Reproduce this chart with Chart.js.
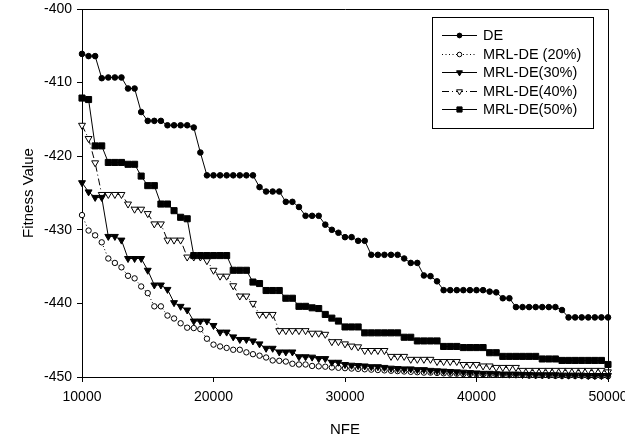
<!DOCTYPE html>
<html>
<head>
<meta charset="utf-8">
<script src="https://cdn.jsdelivr.net/npm/chart.js"></script>
<style>
  body { margin: 0; background: #fff; }
  #mycanvas { display: block; }
</style>
</head>
<body>
<canvas id="mycanvas" width="625" height="442"></canvas>
<script>
var nfe = [10000, 10500, 11000, 11500, 12000, 12500, 13000, 13500, 14000, 14500,
  15000, 15500, 16000, 16500, 17000, 17500, 18000, 18500, 19000, 19500,
  20000, 20500, 21000, 21500, 22000, 22500, 23000, 23500, 24000, 24500,
  25000, 25500, 26000, 26500, 27000, 27500, 28000, 28500, 29000, 29500,
  30000, 30500, 31000, 31500, 32000, 32500, 33000, 33500, 34000, 34500,
  35000, 35500, 36000, 36500, 37000, 37500, 38000, 38500, 39000, 39500,
  40000, 40500, 41000, 41500, 42000, 42500, 43000, 43500, 44000, 44500,
  45000, 45500, 46000, 46500, 47000, 47500, 48000, 48500, 49000, 49500, 50000];

var de = [-406.1, -406.4, -406.4, -409.4, -409.3, -409.3, -409.3, -410.8, -410.8, -414.0,
  -415.2, -415.2, -415.2, -415.8, -415.8, -415.8, -415.8, -416.1, -419.5, -422.6,
  -422.6, -422.6, -422.6, -422.6, -422.6, -422.6, -422.6, -424.2, -424.8, -424.8,
  -424.8, -426.2, -426.2, -426.9, -428.1, -428.1, -428.1, -429.3, -430.0, -430.4,
  -431.0, -431.0, -431.5, -431.5, -433.4, -433.4, -433.4, -433.4, -433.4, -433.9,
  -434.5, -434.5, -436.2, -436.3, -437.0, -438.2, -438.2, -438.2, -438.2, -438.2,
  -438.2, -438.2, -438.4, -438.5, -439.3, -439.3, -440.5, -440.5, -440.5, -440.5,
  -440.5, -440.5, -440.5, -440.9, -441.9, -441.9, -441.9, -441.9, -441.9, -441.9, -441.9];

var mrl20 = [-428.0, -430.1, -430.75, -431.7, -433.9, -434.5, -435.1, -436.25, -436.6, -437.7,
  -438.6, -440.4, -440.4, -441.65, -442.05, -442.7, -443.3, -443.35, -443.5, -444.8,
  -445.6, -445.85, -446.05, -446.3, -446.3, -446.65, -446.9, -447.1, -447.35, -447.75,
  -447.8, -447.9, -448.2, -448.3, -448.3, -448.5, -448.55, -448.6, -448.7, -448.75,
  -448.8, -448.85, -448.9, -448.95, -449.0, -449.05, -449.1, -449.15, -449.2, -449.25,
  -449.3, -449.35, -449.4, -449.4, -449.45, -449.5, -449.55, -449.55, -449.6, -449.6,
  -449.65, -449.65, -449.7, -449.7, -449.7, -449.75, -449.75, -449.75, -449.8, -449.8,
  -449.8, -449.8, -449.85, -449.85, -449.85, -449.85, -449.85, -449.9, -449.9, -449.9, -449.9];

var mrl30 = [-423.6, -424.85, -425.6, -425.6, -430.9, -430.9, -431.4, -433.9, -433.9, -433.9,
  -435.5, -437.5, -437.5, -438.1, -439.9, -440.4, -440.9, -442.4, -442.4, -442.4,
  -443.0, -443.9, -443.9, -444.55, -444.9, -444.9, -445.1, -445.5, -446.1, -446.1,
  -446.6, -446.6, -446.6, -447.25, -447.25, -447.3, -447.5, -447.5, -448.0, -448.0,
  -448.3, -448.4, -448.45, -448.5, -448.6, -448.6, -448.7, -448.8, -448.85, -448.9,
  -448.9, -449.0, -449.0, -449.1, -449.15, -449.2, -449.25, -449.3, -449.35, -449.4,
  -449.45, -449.5, -449.5, -449.55, -449.6, -449.6, -449.6, -449.65, -449.65, -449.7,
  -449.7, -449.7, -449.7, -449.75, -449.75, -449.75, -449.75, -449.8, -449.8, -449.8, -449.8];

var mrl40 = [-415.8, -417.6, -420.9, -425.2, -425.2, -425.2, -425.2, -426.5, -427.2, -427.2,
  -427.8, -429.2, -429.2, -431.4, -431.4, -431.4, -433.7, -433.7, -433.7, -434.2,
  -435.5, -436.3, -436.3, -437.6, -439.0, -439.0, -440.0, -441.5, -441.5, -441.5,
  -443.7, -443.7, -443.7, -443.7, -443.7, -444.05, -444.05, -444.2, -445.2, -445.2,
  -445.5, -445.8, -445.9, -446.4, -446.4, -446.4, -446.4, -447.2, -447.2, -447.2,
  -447.6, -447.6, -447.6, -447.6, -447.9, -447.9, -447.9, -447.9, -448.3, -448.3,
  -448.3, -448.5, -448.5, -448.7, -448.7, -448.7, -448.7, -449.1, -449.1, -449.1,
  -449.1, -449.1, -449.1, -449.1, -449.1, -449.1, -449.1, -449.1, -449.1, -449.1, -449.3];

var mrl50 = [-412.1, -412.3, -418.6, -418.6, -420.85, -420.85, -420.85, -421.1, -421.1, -422.7,
  -424.0, -424.0, -426.5, -426.5, -427.4, -428.3, -428.5, -433.5, -433.5, -433.5,
  -433.5, -433.5, -433.5, -435.5, -435.5, -435.5, -437.1, -437.3, -438.25, -438.25,
  -438.25, -439.3, -439.3, -440.4, -440.4, -440.6, -440.7, -441.5, -442.0, -442.4,
  -443.2, -443.2, -443.2, -444.0, -444.0, -444.0, -444.0, -444.0, -444.0, -444.6,
  -444.6, -445.1, -445.1, -445.1, -445.1, -445.85, -445.85, -445.85, -446.0, -446.0,
  -446.0, -446.0, -446.7, -446.7, -447.2, -447.2, -447.2, -447.2, -447.2, -447.2,
  -447.55, -447.55, -447.55, -447.75, -447.75, -447.75, -447.75, -447.75, -447.75, -447.75, -448.3];

var xTicks = [10000, 20000, 30000, 40000, 50000];
var yTicks = [-400, -410, -420, -430, -440, -450];

var font = "'Liberation Sans', Arial, sans-serif";

function pts(values) {
  var out = [];
  for (var i = 0; i < values.length; i++) {
    out.push({x: nfe[i], y: values[i]});
  }
  return out;
}

function series(label, values, style, radius, rotation, fill, dash, order) {
  return {
    label: label,
    data: pts(values),
    borderColor: '#000',
    borderWidth: 1,
    borderDash: dash,
    pointStyle: style,
    pointRadius: radius,
    pointRotation: rotation,
    pointBackgroundColor: fill,
    pointBorderColor: '#000',
    pointBorderWidth: 1,
    tension: 0,
    fill: false,
    clip: false,
    order: order
  };
}

// top/right frame lines and the boxed legend inside the plot
var frameAndLegend = {
  id: 'frameAndLegend',
  afterDraw: function(chart) {
    var ctx = chart.ctx;
    var a = chart.chartArea;
    ctx.save();
    ctx.strokeStyle = '#000';
    ctx.lineWidth = 1;
    ctx.beginPath();
    ctx.moveTo(Math.round(a.left) + 0.5, Math.round(a.top) + 0.5);
    ctx.lineTo(Math.round(a.right) + 0.5, Math.round(a.top) + 0.5);
    ctx.lineTo(Math.round(a.right) + 0.5, Math.round(a.bottom) + 0.5);
    ctx.stroke();

    ctx.fillStyle = '#fff';
    ctx.fillRect(432.5, 17.5, 161, 111);
    ctx.strokeRect(432.5, 17.5, 161, 111);

    ctx.font = '14.5px ' + font;
    ctx.textBaseline = 'middle';
    chart.data.datasets.forEach(function(ds, i) {
      var y = Math.round(35 + i * 18.6) + 0.5;
      ctx.strokeStyle = '#000';
      ctx.setLineDash(ds.borderDash || []);
      ctx.beginPath();
      ctx.moveTo(442, y);
      ctx.lineTo(477, y);
      ctx.stroke();
      ctx.setLineDash([]);
      ctx.fillStyle = ds.pointBackgroundColor;
      Chart.helpers.drawPoint(ctx, {
        pointStyle: ds.pointStyle,
        rotation: ds.pointRotation,
        radius: ds.pointRadius * 0.85,
        borderWidth: 1
      }, 459.5, y);
      ctx.fillStyle = '#000';
      ctx.fillText(ds.label, 483, y);
    });
    ctx.restore();
  }
};

var ctx = document.getElementById('mycanvas');
var chart = new Chart(ctx, {
  type: 'line',
  data: {
    datasets: [
      series('DE', de, 'circle', 2.8, 0, '#000', [], 0),
      series('MRL-DE (20%)', mrl20, 'circle', 2.7, 0, '#fff', [1, 2.5], 5),
      series('MRL-DE(30%)', mrl30, 'triangle', 4, 180, '#000', [], 1),
      series('MRL-DE(40%)', mrl40, 'triangle', 4, 180, '#fff', [7, 3, 1, 3], 3),
      series('MRL-DE(50%)', mrl50, 'rect', 4.3, 0, '#000', [], 2)
    ]
  },
  options: {
    responsive: false,
    animation: false,
    devicePixelRatio: 1,
    layout: { padding: { top: 9, right: 17, left: 0, bottom: 0 } },
    plugins: {
      legend: { display: false },
      tooltip: { enabled: false }
    },
    scales: {
      x: {
        type: 'linear',
        min: xTicks[0],
        max: xTicks[xTicks.length - 1],
        afterBuildTicks: function(scale) {
          scale.ticks = xTicks.map(function(v) { return {value: v}; });
        },
        afterFit: function(scale) {
          scale.height = 65;
          scale.paddingLeft = 0;
          scale.paddingRight = 0;
        },
        grid: { drawOnChartArea: false, drawTicks: true, tickLength: 5, color: '#000' },
        border: { display: true, color: '#000' },
        ticks: {
          color: '#000',
          padding: 7,
          maxRotation: 0,
          font: { family: font, size: 14 },
          callback: function(v) { return String(v); }
        },
        title: {
          display: true,
          text: 'NFE',
          color: '#000',
          font: { family: font, size: 15 },
          padding: { top: 0, bottom: 3 }
        }
      },
      y: {
        type: 'linear',
        min: yTicks[yTicks.length - 1],
        max: yTicks[0],
        afterBuildTicks: function(scale) {
          scale.ticks = yTicks.map(function(v) { return {value: v}; });
        },
        afterFit: function(scale) {
          scale.width = 82;
          scale.paddingTop = 0;
          scale.paddingBottom = 0;
        },
        grid: { drawOnChartArea: false, drawTicks: true, tickLength: 5, color: '#000' },
        border: { display: true, color: '#000' },
        ticks: {
          color: '#000',
          padding: 5,
          font: { family: font, size: 14 },
          callback: function(v) { return String(v); }
        },
        title: {
          display: true,
          text: 'Fitness Value',
          color: '#000',
          font: { family: font, size: 15 },
          padding: { top: 20, bottom: 0 }
        }
      }
    }
  },
  plugins: [frameAndLegend]
});
</script>
</body>
</html>
